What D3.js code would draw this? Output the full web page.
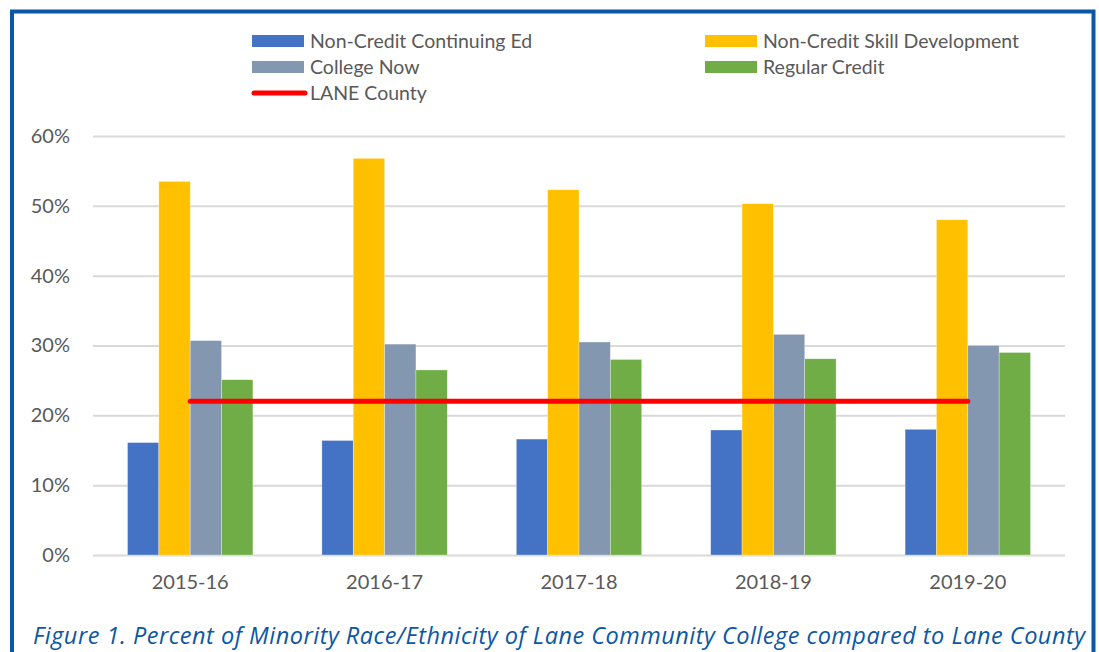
<!DOCTYPE html>
<html>
<head>
<meta charset="utf-8">
<script src="https://cdn.jsdelivr.net/npm/d3@7"></script>
<style>
  body { margin: 0; background: #fff; }
  text { font-family: Lato, "Open Sans", sans-serif; }
</style>
</head>
<body>
<div id="chart"></div>
<script>
// Chart data (percent)
const years = ["2015-16", "2016-17", "2017-18", "2018-19", "2019-20"];
const continuingEd = [16.1, 16.4, 16.6, 17.9, 18.0];
const skillDev = [53.5, 56.8, 52.3, 50.3, 48.0];
const collegeNow = [30.7, 30.2, 30.5, 31.6, 30.0];
const regularCredit = [25.1, 26.5, 28.0, 28.1, 29.0];
const laneCounty = [22, 22, 22, 22, 22];
const yTicks = [0, 10, 20, 30, 40, 50, 60];

const seriesNames = ["Non-Credit Continuing Ed", "Non-Credit Skill Development", "College Now", "Regular Credit"];
const seriesValues = [continuingEd, skillDev, collegeNow, regularCredit];
const colors = ["#4472C4", "#FFC000", "#8497B0", "#70AD47"];
const lineName = "LANE County";
const caption = "Figure 1. Percent of Minority Race/Ethnicity of Lane Community College compared to Lane County";

const width = 1099;
const height = 652;
const margin = { top: 136, right: 34, bottom: 97, left: 93 };

const svg = d3.select("#chart")
    .append("svg")
    .attr("width", width)
    .attr("height", height);

// Outer blue frame
svg.append("rect")
    .attr("x", 12)
    .attr("y", 11.5)
    .attr("width", 1081.5)
    .attr("height", 700)
    .attr("fill", "none")
    .attr("stroke", "#0B57A4")
    .attr("stroke-width", 4);

// Scales
const x0 = d3.scaleBand()
    .domain(years)
    .range([margin.left, width - margin.right])
    .paddingInner(0.355)
    .paddingOuter(0.1775);

const x1 = d3.scaleBand()
    .domain(d3.range(seriesNames.length))
    .range([0, x0.bandwidth()]);

const y = d3.scaleLinear()
    .domain([0, 60])
    .range([height - margin.bottom, margin.top]);

// Y axis with gridlines
const yAxis = svg.append("g")
    .attr("transform", `translate(${margin.left}, 0)`)
    .call(d3.axisLeft(y)
        .tickValues(yTicks)
        .tickFormat(d => d + "%")
        .tickSize(-(x0.range()[1] - margin.left))
        .tickPadding(23));

yAxis.select(".domain").remove();
yAxis.selectAll("line")
    .attr("stroke", "#D9D9D9")
    .attr("stroke-width", 2);
yAxis.selectAll("text")
    .attr("fill", "#595959")
    .style("font-size", "20px");

// X axis labels
const xAxis = svg.append("g")
    .attr("transform", `translate(0, ${y(0)})`)
    .call(d3.axisBottom(x0).tickSize(0).tickPadding(20));

xAxis.select(".domain").remove();
xAxis.selectAll("text")
    .attr("fill", "#595959")
    .style("font-size", "20px");

// Bars
const groups = svg.selectAll(".year")
    .data(years)
    .enter()
    .append("g")
    .attr("class", "year")
    .attr("transform", d => `translate(${x0(d)}, 0)`);

groups.selectAll("rect")
    .data((d, i) => seriesValues.map((vals, s) => ({ s: s, v: vals[i] })))
    .enter()
    .append("rect")
    .attr("x", d => x1(d.s))
    .attr("y", d => y(d.v))
    .attr("width", x1.bandwidth())
    .attr("height", d => y(0) - y(d.v))
    .attr("fill", d => colors[d.s])
    .attr("stroke", "#ffffff")
    .attr("stroke-opacity", 0.5)
    .attr("stroke-width", 0.6);

// Lane County line
const line = d3.line()
    .x((d, i) => x0(years[i]) + x0.bandwidth() / 2)
    .y(d => y(d));

svg.append("path")
    .datum(laneCounty)
    .attr("d", line)
    .attr("fill", "none")
    .attr("stroke", "#FF0000")
    .attr("stroke-width", 5)
    .attr("stroke-linecap", "round");

// Legend
const legendCols = [252, 705];
const legendRows = [41, 67, 93];

const legend = svg.append("g");
seriesNames.forEach((name, i) => {
    const lx = legendCols[i % 2];
    const ly = legendRows[Math.floor(i / 2)];
    legend.append("rect")
        .attr("x", lx)
        .attr("y", ly - 6)
        .attr("width", 52)
        .attr("height", 12)
        .attr("fill", colors[i]);
    legend.append("text")
        .attr("x", lx + 58)
        .attr("y", ly + 6.5)
        .attr("fill", "#595959")
        .style("font-size", "19.5px")
        .text(name);
});

legend.append("line")
    .attr("x1", legendCols[0] + 2)
    .attr("x2", legendCols[0] + 53)
    .attr("y1", legendRows[2])
    .attr("y2", legendRows[2])
    .attr("stroke", "#FF0000")
    .attr("stroke-width", 5)
    .attr("stroke-linecap", "round");

legend.append("text")
    .attr("x", legendCols[0] + 58)
    .attr("y", legendRows[2] + 6.5)
    .attr("fill", "#595959")
    .style("font-size", "19.5px")
    .text(lineName);

// Caption
svg.append("text")
    .attr("x", 33)
    .attr("y", 644)
    .attr("fill", "#0B57A4")
    .attr("textLength", 1052)
    .attr("lengthAdjust", "spacing")
    .style("font-family", "'Open Sans', sans-serif")
    .style("font-size", "23.5px")
    .style("font-style", "italic")
    .text(caption);
</script>
</body>
</html>
